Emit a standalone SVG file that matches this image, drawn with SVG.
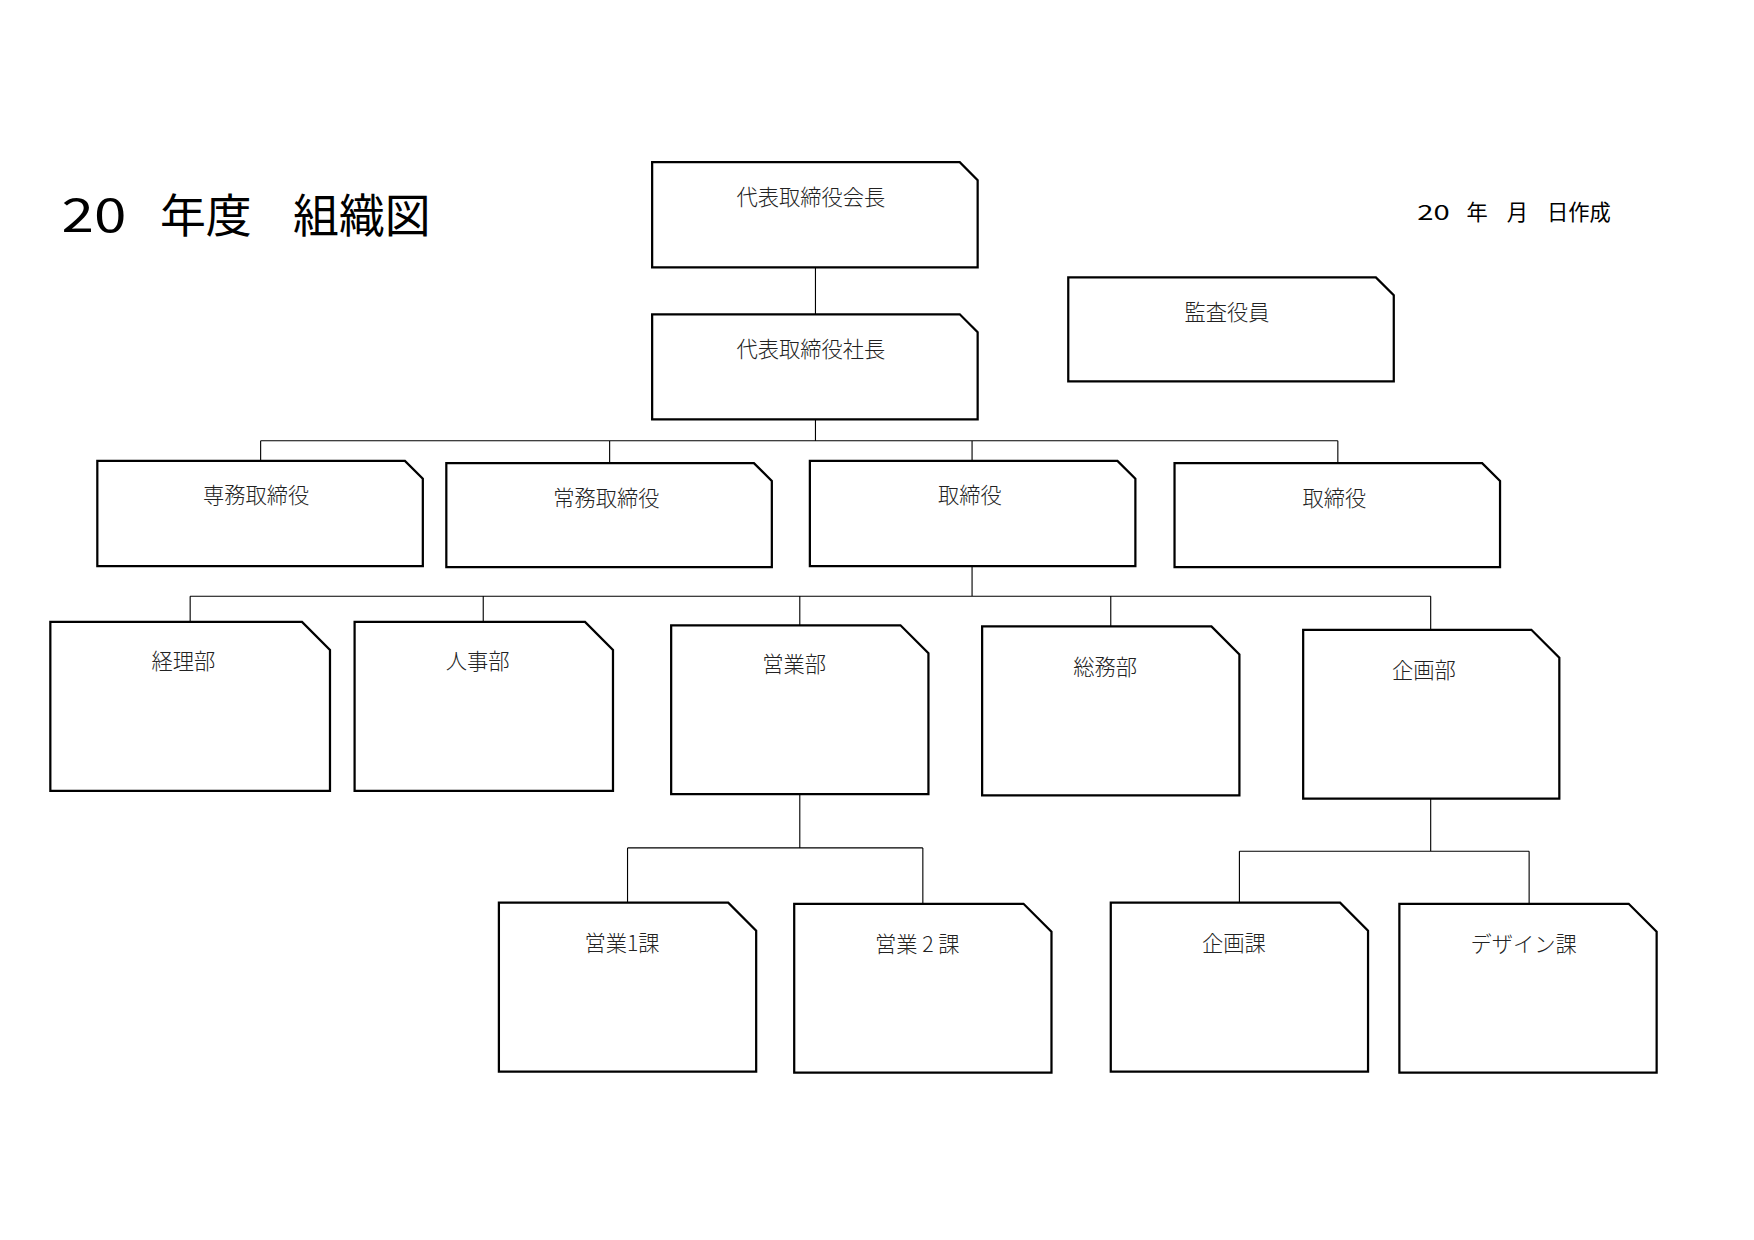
<svg xmlns="http://www.w3.org/2000/svg" width="1754" height="1240" viewBox="0 0 1754 1240">
<style>
.b{fill:#fff;stroke:#000;stroke-width:2}
.c{fill:none;stroke:#000;stroke-width:1}
text{font-family:"Noto Sans CJK JP","Liberation Sans",sans-serif;fill:#222}
.l{font-size:19px;text-anchor:middle;font-weight:300}
.t{font-size:41px;fill:#000}
.d{font-size:19px;fill:#000}
</style>
<rect width="1754" height="1240" fill="#fff"/>
<g transform="scale(1.1186)">
<text class="t" x="55" y="207" textLength="58" lengthAdjust="spacingAndGlyphs">20</text><text class="t" x="143" y="207">年度</text><text class="t" x="262" y="207">組織図</text>
<text class="d" x="1267" y="197" textLength="29" lengthAdjust="spacingAndGlyphs">20</text><text class="d" x="1311" y="197">年</text><text class="d" x="1347" y="197">月</text><text class="d" x="1383" y="197">日作成</text>
<g id="connectors">
<path class="c" d="M729 239V281M729 375V394M233 394H1196M233 394V412M545 394V414M869 394V412M1196 394V414"/>
<path class="c" d="M869 506V533M170 533H1279M170 533V556M432 533V556M715 533V559M993 533V560M1279 533V563"/>
<path class="c" d="M715 710V758M561 758H825M561 758V807M825 758V808"/>
<path class="c" d="M1279 714V761M1108 761H1367M1108 761V807M1367 761V808"/>
</g>
<g id="n1"><path class="b" d="M583 145H858L874 161V239H583Z"/><text class="l" x="725" y="183">代表取締役会長</text></g>
<g id="n2"><path class="b" d="M583 281H858L874 297V375H583Z"/><text class="l" x="725" y="319">代表取締役社長</text></g>
<g id="n3"><path class="b" d="M955 248H1230L1246 264V341H955Z"/><text class="l" x="1097" y="286">監査役員</text></g>
<g id="n4"><path class="b" d="M87 412H362L378 428V506H87Z"/><text class="l" x="229" y="450">専務取締役</text></g>
<g id="n5"><path class="b" d="M399 414H674L690 430V507H399Z"/><text class="l" x="542" y="452">常務取締役</text></g>
<g id="n6"><path class="b" d="M724 412H999L1015 428V506H724Z"/><text class="l" x="867" y="450">取締役</text></g>
<g id="n7"><path class="b" d="M1050 414H1325L1341 430V507H1050Z"/><text class="l" x="1193" y="452">取締役</text></g>
<g id="n8"><path class="b" d="M45 556H270L295 581V707H45Z"/><text class="l" x="164" y="598">経理部</text></g>
<g id="n9"><path class="b" d="M317 556H523L548 581V707H317Z"/><text class="l" x="427" y="598">人事部</text></g>
<g id="n10"><path class="b" d="M600 559H805L830 584V710H600Z"/><text class="l" x="710" y="601">営業部</text></g>
<g id="n11"><path class="b" d="M878 560H1083L1108 585V711H878Z"/><text class="l" x="988" y="603">総務部</text></g>
<g id="n12"><path class="b" d="M1165 563H1369L1394 588V714H1165Z"/><text class="l" x="1273" y="606">企画部</text></g>
<g id="n13"><path class="b" d="M446 807H651L676 832V958H446Z"/><text class="l" x="556" y="850">営業1課</text></g>
<g id="n14"><path class="b" d="M710 808H915L940 833V959H710Z"/><text class="l" x="820" y="851">営業 2 課</text></g>
<g id="n15"><path class="b" d="M993 807H1198L1223 832V958H993Z"/><text class="l" x="1103" y="850">企画課</text></g>
<g id="n16"><path class="b" d="M1251 808H1456L1481 833V959H1251Z"/><text class="l" x="1362" y="851">デザイン課</text></g>
</g>
</svg>
